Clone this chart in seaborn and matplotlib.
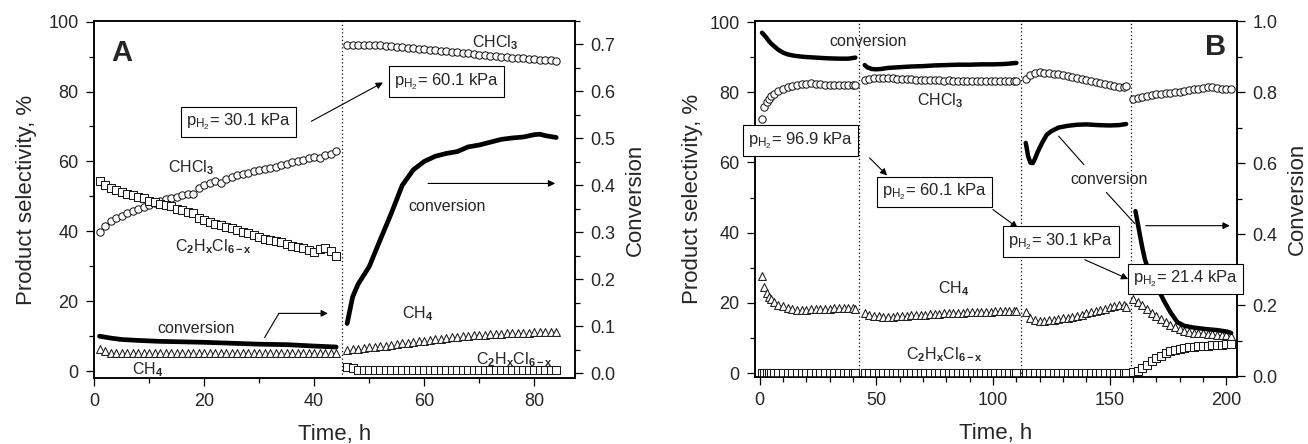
import matplotlib

matplotlib.use("Agg")
import matplotlib.pyplot as plt
import seaborn as sns
from matplotlib.ticker import FormatStrFormatter, MultipleLocator

# ---------------- panel A (switch 30.1 -> 60.1 kPa at 45 h) ----------------
A_SWITCH = [45]

A_T1 = [1, 2, 3, 4, 5, 6, 7, 8, 9, 10, 11, 12, 13, 14, 15, 16, 17, 18, 19, 20, 21, 22,
        23, 24, 25, 26, 27, 28, 29, 30, 31, 32, 33, 34, 35, 36, 37, 38, 39, 40, 41, 42, 43, 44]
A_CHCL3_1 = [39.7, 41.6, 43.0, 43.7, 44.3, 45.1, 45.8, 46.3, 47.0, 47.6, 48.2, 48.8, 49.1, 49.6,
             49.9, 50.4, 50.6, 50.8, 52.3, 53.2, 53.9, 54.3, 53.9, 54.9, 55.4, 56.1, 56.5, 56.8,
             57.3, 57.6, 57.9, 58.2, 58.4, 58.9, 59.4, 59.8, 60.1, 60.5, 61.0, 61.4, 61.0, 61.8,
             62.2, 63.0]
A_C2_1 = [54.4, 53.2, 52.4, 51.7, 51.2, 50.6, 50.3, 49.8, 49.4, 48.7, 48.4, 47.9, 47.5, 47.2,
          46.5, 46.0, 45.6, 45.3, 43.7, 43.2, 42.7, 42.2, 41.8, 41.3, 41.0, 40.4, 39.9, 39.4,
          39.0, 38.5, 37.7, 37.5, 37.3, 36.8, 36.3, 35.9, 35.6, 35.1, 34.6, 34.2, 34.8, 35.1,
          34.5, 32.8]
A_CH4_1 = [6.3, 5.6, 5.3, 5.2, 5.2, 5.1, 5.1, 5.1, 5.2, 5.1, 5.1, 5.1, 5.2, 5.1, 5.1, 5.1, 5.2,
           5.1, 5.1, 5.1, 5.2, 5.1, 5.1, 5.1, 5.1, 5.2, 5.1, 5.1, 5.1, 5.2, 5.1, 5.1, 5.1, 5.2,
           5.1, 5.1, 5.1, 5.2, 5.1, 5.1, 5.2, 5.1, 5.2, 5.3]

A_T2 = [46, 47, 48, 49, 50, 51, 52, 53, 54, 55, 56, 57, 58, 59, 60, 61, 62, 63, 64, 65, 66, 67,
        68, 69, 70, 71, 72, 73, 74, 75, 76, 77, 78, 79, 80, 81, 82, 83, 84]
A_CHCL3_2 = [93.2, 93.4, 93.4, 93.4, 93.3, 93.3, 93.2, 93.1, 93.0, 92.9, 92.7, 92.6, 92.4, 92.3,
             92.1, 92.0, 91.8, 91.6, 91.5, 91.3, 91.2, 91.0, 90.9, 90.7, 90.6, 90.4, 90.3, 90.1,
             90.0, 89.9, 89.7, 89.6, 89.5, 89.3, 89.2, 89.1, 89.0, 88.9, 88.7]
A_C2_2 = [1.2, 0.8, 0.4, 0.4, 0.4, 0.4, 0.4, 0.4, 0.4, 0.4, 0.4, 0.4, 0.4, 0.4, 0.4, 0.4, 0.4,
          0.4, 0.4, 0.4, 0.4, 0.4, 0.4, 0.4, 0.4, 0.4, 0.4, 0.4, 0.4, 0.4, 0.4, 0.4, 0.4, 0.4,
          0.4, 0.4, 0.4, 0.4, 0.4]
A_CH4_2 = [6.1, 6.3, 6.4, 6.6, 6.8, 6.9, 7.1, 7.3, 7.5, 7.7, 7.9, 8.1, 8.3, 8.5, 8.7, 8.9, 9.1,
           9.3, 9.5, 9.6, 9.8, 9.9, 10.0, 10.2, 10.3, 10.4, 10.5, 10.6, 10.7, 10.8, 10.8, 10.9,
           11.0, 11.0, 11.1, 11.1, 11.2, 11.2, 11.3]

A_CONV_T1 = [1, 3, 5, 8, 12, 16, 20, 25, 30, 35, 40, 44]
A_CONV_1 = [0.079, 0.075, 0.072, 0.070, 0.068, 0.067, 0.066, 0.064, 0.062, 0.061, 0.058, 0.056]
A_CONV_T2 = [46, 47, 48, 50, 52, 54, 56, 58, 60, 62, 64, 66, 68, 70, 72, 74, 76, 78, 80, 81, 82, 84]
A_CONV_2 = [0.106, 0.163, 0.190, 0.227, 0.284, 0.340, 0.400, 0.433, 0.451, 0.462, 0.468, 0.472,
            0.482, 0.486, 0.492, 0.498, 0.501, 0.503, 0.508, 0.509, 0.506, 0.502]

# ---------------- panel B (96.9 -> 60.1 -> 30.1 -> 21.4 kPa) ----------------
B_SWITCH = [42.6, 111.9, 158.9]

B_T1 = [1, 2, 3, 4, 5, 6, 8, 10, 12, 14, 16, 18, 20, 22, 24, 26, 28, 30, 32, 34, 36, 38, 40, 41]
B_CHCL3_1 = [72.5, 75.8, 77.2, 78.2, 78.8, 79.4, 80.3, 81.0, 81.5, 81.8, 82.1, 82.3, 82.4, 82.5,
             82.4, 82.3, 82.2, 82.1, 82.0, 82.0, 82.0, 82.0, 82.0, 82.0]
B_CH4_1 = [27.7, 24.5, 22.9, 21.7, 21.0, 20.3, 19.5, 19.0, 18.6, 18.2, 18.0, 18.0, 18.1, 18.2,
           18.3, 18.3, 18.4, 18.4, 18.5, 18.5, 18.6, 18.5, 18.6, 18.4]
B_C2_1 = [0.0, 0.0, 0.0, 0.0, 0.0, 0.0, 0.0, 0.0, 0.0, 0.0, 0.0, 0.0, 0.0, 0.0, 0.0, 0.0, 0.0,
          0.0, 0.0, 0.0, 0.0, 0.0, 0.0, 0.0]

B_T2 = [45, 47, 49, 51, 53, 55, 57, 59, 61, 63, 65, 67, 69, 71, 73, 75, 77, 79, 81, 83, 85, 87,
        89, 91, 93, 95, 97, 99, 101, 103, 105, 107, 109, 110]
B_CHCL3_2 = [83.6, 83.9, 84.0, 84.1, 84.0, 84.2, 84.0, 83.9, 83.8, 83.9, 83.7, 83.6, 83.6, 83.5,
             83.6, 83.4, 83.4, 83.3, 83.4, 83.3, 83.2, 83.3, 83.2, 83.2, 83.3, 83.1, 83.2, 83.2,
             83.1, 83.2, 83.2, 83.3, 83.2, 83.3]
B_CH4_2 = [17.0, 16.6, 16.4, 16.2, 16.1, 16.0, 16.1, 16.2, 16.3, 16.4, 16.5, 16.5, 16.6, 16.7,
           16.8, 16.8, 16.9, 17.0, 17.0, 17.1, 17.2, 17.2, 17.3, 17.3, 17.4, 17.4, 17.5, 17.5,
           17.6, 17.6, 17.7, 17.7, 17.7, 17.8]
B_C2_2 = [0.0, 0.0, 0.0, 0.0, 0.0, 0.0, 0.0, 0.0, 0.0, 0.0, 0.0, 0.0, 0.0, 0.0, 0.0, 0.0, 0.0,
          0.0, 0.0, 0.0, 0.0, 0.0, 0.0, 0.0, 0.0, 0.0, 0.0, 0.0, 0.0, 0.0, 0.0, 0.0, 0.0, 0.0]

B_T3 = [114, 116, 118, 120, 122, 124, 126, 128, 130, 132, 134, 136, 138, 140, 142, 144, 146,
        148, 150, 152, 154, 156, 157]
B_CHCL3_3 = [83.7, 84.9, 85.6, 85.7, 85.6, 85.4, 85.3, 85.1, 84.9, 84.6, 84.3, 84.1, 83.8, 83.6,
             83.3, 83.0, 82.7, 82.4, 82.1, 81.8, 81.6, 81.6, 81.9]
B_CH4_3 = [17.3, 15.6, 15.0, 14.8, 14.9, 15.0, 15.2, 15.4, 15.6, 15.8, 16.1, 16.4, 16.7, 17.0,
           17.4, 17.7, 18.1, 18.4, 18.7, 19.0, 19.3, 19.4, 18.9]
B_C2_3 = [0.0, 0.0, 0.0, 0.0, 0.0, 0.0, 0.0, 0.0, 0.0, 0.0, 0.0, 0.0, 0.0, 0.0, 0.0, 0.0, 0.0,
          0.0, 0.0, 0.0, 0.0, 0.0, 0.0]

B_T4 = [160, 162, 164, 166, 168, 170, 172, 174, 176, 178, 180, 182, 184, 186, 188, 190, 192,
        194, 196, 198, 200, 202]
B_CHCL3_4 = [78.0, 78.3, 78.6, 78.9, 79.1, 79.4, 79.6, 79.8, 79.9, 80.1, 80.2, 80.4, 80.6, 80.8,
             81.0, 81.3, 81.5, 81.4, 81.2, 81.0, 80.9, 80.8]
B_CH4_4 = [21.0, 20.3, 19.3, 18.2, 17.0, 16.2, 15.5, 14.6, 13.8, 13.1, 12.5, 12.0, 11.7, 11.5,
           11.4, 11.3, 11.2, 11.1, 11.0, 10.9, 10.8, 10.5]
B_C2_4 = [0.2, 0.6, 1.4, 2.4, 3.5, 4.4, 5.0, 5.6, 6.2, 6.7, 7.0, 7.2, 7.4, 7.5, 7.6, 7.7, 7.8,
          7.9, 8.0, 8.1, 8.2, 8.3]

B_CONV_T1 = [1, 2, 3, 4, 5, 6, 8, 10, 12, 15, 19, 24, 29, 34, 38, 41]
B_CONV_1 = [0.967, 0.960, 0.952, 0.943, 0.936, 0.930, 0.919, 0.911, 0.906, 0.902, 0.899, 0.897,
            0.895, 0.894, 0.894, 0.897]
B_CONV_T2 = [45, 46, 48, 50, 52, 55, 60, 65, 70, 75, 80, 85, 90, 95, 100, 105, 110]
B_CONV_2 = [0.876, 0.870, 0.865, 0.864, 0.865, 0.868, 0.870, 0.872, 0.873, 0.875, 0.876, 0.877,
            0.877, 0.878, 0.878, 0.879, 0.882]
B_CONV_T3 = [114, 115, 116, 117, 118, 119, 121, 123, 125, 128, 132, 136, 140, 145, 150, 154, 157]
B_CONV_3 = [0.657, 0.620, 0.601, 0.600, 0.613, 0.630, 0.657, 0.680, 0.690, 0.700, 0.705, 0.708,
            0.709, 0.707, 0.706, 0.707, 0.710]
B_CONV_T4 = [161, 162, 163, 164, 165, 167, 170, 173, 176, 179, 182, 186, 191, 196, 200, 202]
B_CONV_4 = [0.465, 0.430, 0.394, 0.360, 0.330, 0.290, 0.255, 0.215, 0.180, 0.152, 0.142, 0.137,
            0.133, 0.130, 0.126, 0.122]

CHCL3 = r"CHCl$_\mathbf{3}$"
CH4 = r"CH$_\mathbf{4}$"
C2 = r"C$_\mathbf{2}$H$_\mathbf{x}$Cl$_\mathbf{6-x}$"


def p_h2(value: str) -> str:
    return r"p$_\mathregular{H_2}$= " + value + " kPa"


sns.set_theme(style="ticks")
plt.rcParams["font.family"] = ["Liberation Sans", "DejaVu Sans"]
plt.rcParams["mathtext.fontset"] = "custom"
plt.rcParams["mathtext.rm"] = "Liberation Sans"
plt.rcParams["mathtext.it"] = "Liberation Sans:italic"
plt.rcParams["mathtext.bf"] = "Liberation Sans:bold"

EDGE = "#1a1a1a"


def markers(ax, t, y, marker, size):
    sns.scatterplot(x=t, y=y, ax=ax, marker=marker, s=size, color="white",
                    edgecolor=EDGE, linewidth=0.75, legend=False, zorder=3)


def conversion(ax, t, y, lw):
    sns.lineplot(x=t, y=y, ax=ax, color="black", linewidth=lw, estimator=None,
                 solid_capstyle="round", legend=False)


def label(top, ax, x, y, text, size=11.5, boxed=False, **kw):
    bbox = dict(boxstyle="square,pad=0.3", fc="white", ec="black", lw=0.8) if boxed else None
    top.text(x, y, text, transform=ax.transData, ha="center", va="center",
             fontsize=size, bbox=bbox, zorder=6, **kw)


def arrow(top, ax, start, end, head=True):
    style = "-|>" if head else "-"
    top.annotate("", xy=end, xytext=start, xycoords=ax.transData, textcoords=ax.transData,
                 arrowprops=dict(arrowstyle=style, color="black", lw=0.8,
                                 mutation_scale=10, shrinkA=0, shrinkB=0), zorder=5)


def style_axes(ax, ax2, xmaj, xmin, rmaj, rmin, left_pad):
    for a in (ax, ax2):
        for sp in a.spines.values():
            sp.set_linewidth(1.1)
            sp.set_color("black")
    ax.xaxis.set_major_locator(MultipleLocator(xmaj))
    ax.xaxis.set_minor_locator(MultipleLocator(xmin))
    ax.yaxis.set_major_locator(MultipleLocator(20))
    ax.yaxis.set_minor_locator(MultipleLocator(10))
    ax2.yaxis.set_major_locator(MultipleLocator(rmaj))
    ax2.yaxis.set_minor_locator(MultipleLocator(rmin))
    ax2.yaxis.set_major_formatter(FormatStrFormatter("%.1f"))
    for a in (ax, ax2):
        a.tick_params(which="major", direction="out", length=6, width=0.9,
                      labelsize=13, pad=5, color="black")
        a.tick_params(which="minor", direction="out", length=3.5, width=0.9, color="black")
    ax.set_xlabel("Time, h", fontsize=16, labelpad=10)
    ax.set_ylabel("Product selectivity, %", fontsize=16, labelpad=left_pad)
    ax2.set_ylabel("Conversion", fontsize=16, labelpad=7)


fig = plt.figure(figsize=(13.08, 4.44), dpi=100)

# ---------------- panel A ----------------
axA = fig.add_axes([94 / 1308, 1 - 378 / 444, 481 / 1308, 357 / 444])
axA2 = axA.twinx()
for x in A_SWITCH:
    axA.axvline(x, color="black", ls=(0, (1, 2)), lw=0.9)
markers(axA, A_T1, A_CHCL3_1, "o", 28)
markers(axA, A_T1, A_C2_1, "s", 26)
markers(axA, A_T1, A_CH4_1, "^", 32)
markers(axA, A_T2, A_CHCL3_2, "o", 28)
markers(axA, A_T2, A_C2_2, "s", 26)
markers(axA, A_T2, A_CH4_2, "^", 32)
conversion(axA2, A_CONV_T1, A_CONV_1, 3.4)
conversion(axA2, A_CONV_T2, A_CONV_2, 3.4)
axA.set_xlim(0, 87.4)
axA.set_ylim(-2, 100.2)
axA2.set_ylim(-0.01, 0.75)
style_axes(axA, axA2, 20, 10, 0.1, 0.05, 8)

label(axA2, axA, 5.1, 91.0, "A", size=21, fontweight="bold")
label(axA2, axA, 26.3, 71.3, p_h2("30.1"), size=12, boxed=True)
label(axA2, axA, 64.1, 82.8, p_h2("60.1"), size=12, boxed=True)
arrow(axA2, axA, (39.5, 71.5), (52.5, 82.6))
label(axA2, axA, 72.9, 94.0, CHCL3)
label(axA2, axA, 17.6, 58.1, CHCL3)
label(axA2, axA, 21.6, 35.5, C2)
label(axA2, axA, 18.5, 12.2, "conversion")
label(axA2, axA, 9.8, 0.5, CH4)
label(axA2, axA, 64.1, 47.0, "conversion")
label(axA2, axA, 58.9, 16.4, CH4)
label(axA2, axA, 76.3, 3.3, C2)
arrow(axA2, axA, (31.0, 9.6), (33.6, 16.5), head=False)
arrow(axA2, axA, (33.6, 16.5), (42.5, 16.5))
arrow(axA2, axA, (60.7, 53.7), (83.8, 53.7))

# ---------------- panel B ----------------
axB = fig.add_axes([755 / 1308, 1 - 377 / 444, 482 / 1308, 356 / 444])
axB2 = axB.twinx()
for x in B_SWITCH:
    axB.axvline(x, color="black", ls=(0, (1, 2)), lw=0.9)
for t, chcl3, ch4, c2 in [(B_T1, B_CHCL3_1, B_CH4_1, B_C2_1), (B_T2, B_CHCL3_2, B_CH4_2, B_C2_2),
                          (B_T3, B_CHCL3_3, B_CH4_3, B_C2_3), (B_T4, B_CHCL3_4, B_CH4_4, B_C2_4)]:
    markers(axB, t, chcl3, "o", 28)
    markers(axB, t, c2, "s", 26)
    markers(axB, t, ch4, "^", 32)
conversion(axB2, B_CONV_T1, B_CONV_1, 3.2)
conversion(axB2, B_CONV_T2, B_CONV_2, 3.2)
conversion(axB2, B_CONV_T3, B_CONV_3, 3.2)
conversion(axB2, B_CONV_T4, B_CONV_4, 3.2)
axB.set_xlim(-2, 204.5)
axB.set_ylim(-1.1, 100.3)
axB2.set_ylim(-0.002, 1.0)
style_axes(axB, axB2, 50, 10, 0.2, 0.1, 5)

label(axB2, axB, 195.4, 92.8, "B", size=21, fontweight="bold")
label(axB2, axB, 46.4, 94.6, "conversion")
label(axB2, axB, 77.1, 77.5, CHCL3)
label(axB2, axB, 17.6, 66.3, p_h2("96.9"), size=12, boxed=True)
label(axB2, axB, 74.9, 51.6, p_h2("60.1"), size=12, boxed=True)
label(axB2, axB, 129.1, 37.5, p_h2("30.1"), size=12, boxed=True)
label(axB2, axB, 182.4, 26.8, p_h2("21.4"), size=12, boxed=True)
arrow(axB2, axB, (47.1, 61.3), (54.6, 56.3))
arrow(axB2, axB, (99.9, 46.6), (110.6, 41.4))
arrow(axB2, axB, (139.3, 32.3), (157.9, 26.8))
label(axB2, axB, 149.7, 55.1, "conversion")
arrow(axB2, axB, (138.9, 59.4), (128.1, 67.5), head=False)
arrow(axB2, axB, (148.5, 51.5), (160.7, 42.6), head=False)
arrow(axB2, axB, (165.4, 42.0), (201.4, 42.0))
label(axB2, axB, 83.2, 24.2, CH4)
label(axB2, axB, 79.3, 5.2, C2)

fig.savefig("out.png", dpi=100)
plt.close(fig)
